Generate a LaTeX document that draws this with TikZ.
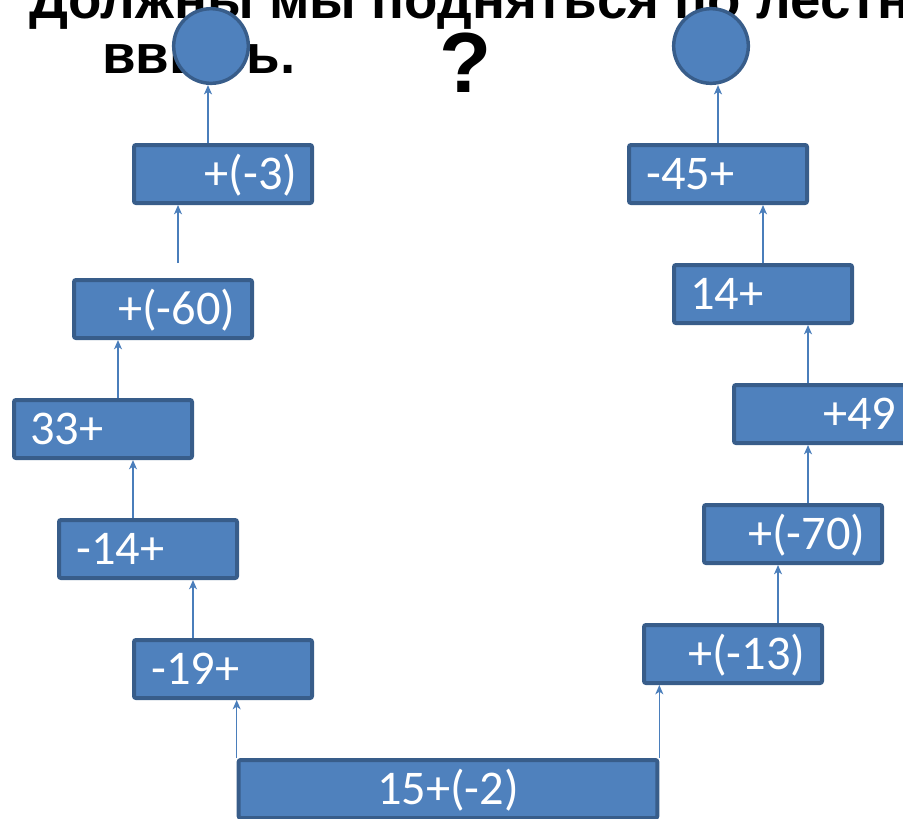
\documentclass[tikz,border=0pt]{standalone}
\usepackage{fontspec}
\usepackage{tikz}
\usetikzlibrary{arrows.meta}
\newfontfamily\labelfont{Carlito}
\newfontfamily\headfont{Liberation Sans}
\definecolor{stepfill}{HTML}{4F81BD}
\definecolor{stepline}{HTML}{385D8A}
\definecolor{linkblue}{HTML}{4A7EBB}
\newcommand{\pad}[1]{\hspace*{#1pt}}
\tikzset{
  stepbox/.style={rectangle, draw=stepline, fill=stepfill, line width=3pt, rounded corners=1.5pt,
    minimum height=43.5pt, text width=133.5pt, inner xsep=0pt, inner ysep=0pt,
    align=left, text=white, text height=22.6pt, text depth=0pt,
    font=\labelfont\fontsize{36.3}{40}\selectfont},
  ball/.style={circle, draw=stepline, fill=stepfill, line width=2.6pt,
    minimum size=56pt, inner sep=0pt},
  link/.style={draw=linkblue, line width=1.1pt, -{Stealth[length=7pt,width=6pt,inset=2pt]}},
  heading/.style={font=\headfont\bfseries\fontsize{41}{41}\selectfont, inner sep=0pt, anchor=base west}
}
\begin{document}
\begin{tikzpicture}[x=0.75pt, y=-0.75pt]
    \useasboundingbox (0,0) rectangle (903,818);
    \clip (0,0) rectangle (903,818);
    % title
    \node[heading] (head1) at (29,18) {Должны мы подняться по лестнице};
    \node[heading] (head2) at (102,73) {ввысь.};
    \node[heading, font=\headfont\bfseries\fontsize{64}{64}\selectfont] (quest) at (439,92) {?};
    % left stairs
    \node[stepbox] (s19) at (223,669) {\pad{13}-19+};
    \node[stepbox] (s14) at (148,549) {\pad{13}-14+};
    \node[stepbox] (s33) at (103,429) {\pad{12}33+};
    \node[stepbox] (s60) at (163,309) {\pad{33}+(-60)};
    \node[stepbox] (s3) at (223,174) {\pad{53}+(-3)};
    % right stairs
    \node[stepbox] (s13) at (733,654) {\pad{33}+(-13)};
    \node[stepbox] (s70) at (793,534) {\pad{33}+(-70)};
    \node[stepbox] (s49) at (823,414) {\pad{67}+49};
    \node[stepbox] (s14r) at (763,294) {\pad{12}14+};
    \node[stepbox] (s45) at (718,174) {\pad{13}-45+};
    % bottom step
    \node[stepbox, text width=314pt, align=center] (base) at (448,789) {15+(-2)};
    % balloons
    \node[ball] (ballL) at (211,46) {};
    \node[ball] (ballR) at (711,46) {};
    % arrows left
    \draw[link] (base.north west) -- (base.north west |- s19.south);
    \draw[link] (s19.north -| 193,0) -- (s14.south -| 193,0);
    \draw[link] (s14.north -| 133,0) -- (s33.south -| 133,0);
    \draw[link] (s33.north -| 118,0) -- (s60.south -| 118,0);
    \draw[link] (s60.north -| 178,0) ++(0,-15) -- (s3.south -| 178,0);
    \draw[link] (s3.north -| 208,0) -- (ballL.south -| 208,0);
    % arrows right
    \draw[link] (base.north east) -- (base.north east |- s13.south);
    \draw[link] (s13.north -| 778,0) -- (s70.south -| 778,0);
    \draw[link] (s70.north -| 808,0) -- (s49.south -| 808,0);
    \draw[link] (s49.north -| 808,0) -- (s14r.south -| 808,0);
    \draw[link] (s14r.north -| 763,0) -- (s45.south -| 763,0);
    \draw[link] (s45.north -| 718,0) -- (ballR.south -| 718,0);
\end{tikzpicture}
\end{document}
